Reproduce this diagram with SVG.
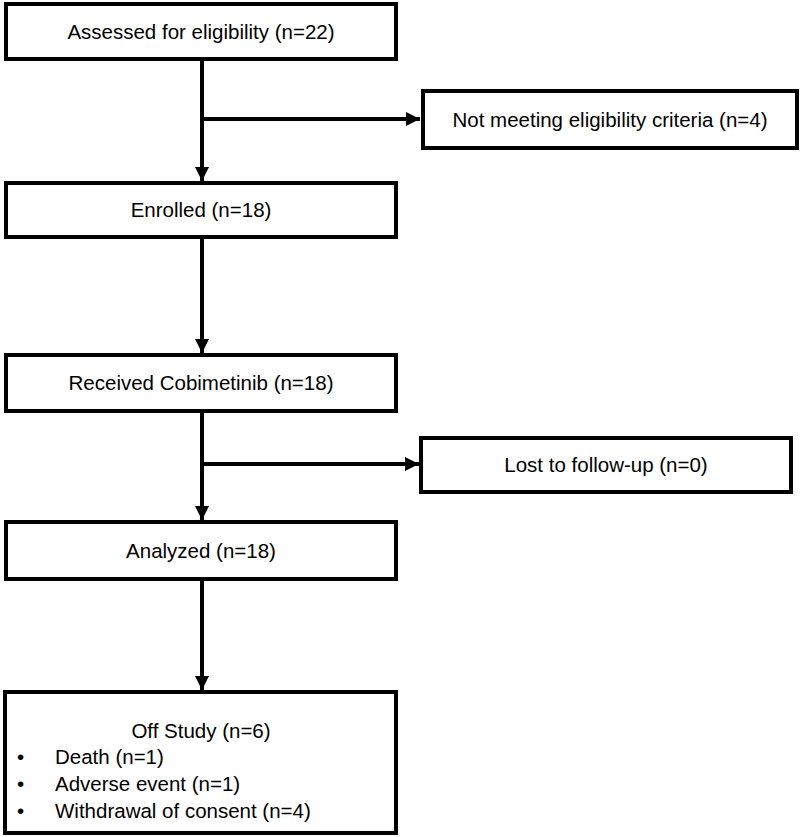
<svg xmlns="http://www.w3.org/2000/svg" width="800" height="837" viewBox="0 0 800 837">
<style>
.box{fill:#fff;stroke:#000;stroke-width:4}
.t{font-family:"Liberation Sans",Arial,sans-serif;font-size:20.5px;fill:#000}
.c{text-anchor:middle}
.ln{stroke:#000;stroke-width:4;fill:none}
</style>
<defs>
<marker id="ah" markerUnits="userSpaceOnUse" markerWidth="16" markerHeight="16" viewBox="0 0 16 16" refX="14" refY="8" orient="auto">
<path d="M0,1 L14,8 L0,15 Z" fill="#000"/>
</marker>
</defs>
<rect width="800" height="837" fill="#fff"/>
<g id="connectors">
<line class="ln" x1="202" y1="61" x2="202" y2="181" marker-end="url(#ah)"/>
<line class="ln" x1="202" y1="119" x2="420" y2="119" marker-end="url(#ah)"/>
<line class="ln" x1="202" y1="239" x2="202" y2="353" marker-end="url(#ah)"/>
<line class="ln" x1="202" y1="413" x2="202" y2="520" marker-end="url(#ah)"/>
<line class="ln" x1="202" y1="464" x2="419" y2="464" marker-end="url(#ah)"/>
<line class="ln" x1="202" y1="581" x2="202" y2="690" marker-end="url(#ah)"/>
</g>
<g id="assessed">
<rect class="box" x="6" y="4" width="390" height="55"/>
<text class="t c" x="201" y="39">Assessed for eligibility (n=22)</text>
</g>
<g id="excluded">
<rect class="box" x="423" y="91" width="374" height="57"/>
<text class="t c" x="610" y="127">Not meeting eligibility criteria (n=4)</text>
</g>
<g id="enrolled">
<rect class="box" x="6" y="183" width="390" height="54"/>
<text class="t c" x="201" y="217">Enrolled (n=18)</text>
</g>
<g id="received">
<rect class="box" x="6" y="355" width="390" height="56"/>
<text class="t c" x="201" y="390">Received Cobimetinib (n=18)</text>
</g>
<g id="lost">
<rect class="box" x="421" y="438" width="370" height="54"/>
<text class="t c" x="606" y="472">Lost to follow-up (n=0)</text>
</g>
<g id="analyzed">
<rect class="box" x="6" y="522" width="390" height="57"/>
<text class="t c" x="201" y="558">Analyzed (n=18)</text>
</g>
<g id="offstudy">
<rect class="box" x="5" y="692" width="391" height="141"/>
<text class="t c" x="201" y="738">Off Study (n=6)</text>
<text class="t" x="17" y="764">•</text>
<text class="t" x="55" y="764">Death (n=1)</text>
<text class="t" x="17" y="791">•</text>
<text class="t" x="55" y="791">Adverse event (n=1)</text>
<text class="t" x="17" y="818">•</text>
<text class="t" x="55" y="818">Withdrawal of consent (n=4)</text>
</g>
</svg>
